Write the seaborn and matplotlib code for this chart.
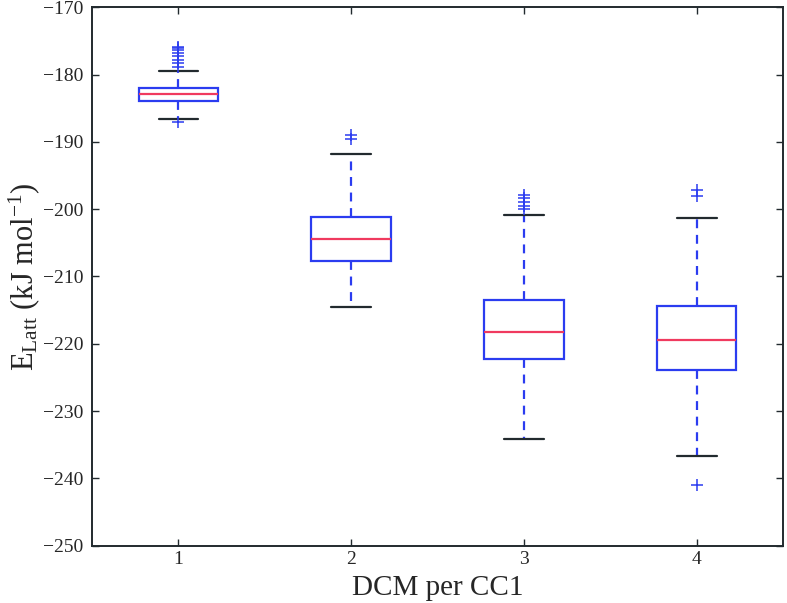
import numpy as np
import pandas as pd
import matplotlib
matplotlib.use("Agg")
import matplotlib.pyplot as plt
import seaborn as sns

# box summary values (kJ/mol)
dcm = [1, 2, 3, 4]
q1 = [-183.9, -207.7, -222.3, -223.9]
median = [-182.9, -204.4, -218.2, -219.4]
q3 = [-182.0, -201.2, -213.5, -214.4]
whisker_low = [-186.6, -214.5, -234.1, -236.6]
whisker_high = [-179.4, -191.8, -200.9, -201.3]
outliers = [
    [-187.0, -175.9, -176.1, -176.4, -176.8, -177.3, -177.8, -178.3, -178.9],
    [-189.0, -189.6],
    [-197.9, -198.4, -198.9, -199.5, -200.0],
    [-241.0, -197.1, -198.0],
]


def sample_from_stats(lo_w, a, m, b, hi_w, fl):
    # rebuild a sample whose quartiles / whiskers / fliers match the stats
    lows = sorted([v for v in fl if v < a]) + [lo_w]
    highs = [hi_w] + sorted([v for v in fl if v > b])
    k = max(len(lows), len(highs))
    vals = lows + [a] * (k - len(lows) + 1) + [m] * k + [b] * (2 * k - len(highs)) + highs
    return vals


rows = []
for i, g in enumerate(dcm):
    for v in sample_from_stats(whisker_low[i], q1[i], median[i], q3[i], whisker_high[i], outliers[i]):
        rows.append({"dcm": g, "elatt": v})
df = pd.DataFrame(rows)

sns.set_style("ticks")
plt.rcParams['font.family'] = ['Liberation Serif', 'DejaVu Serif']
plt.rcParams['mathtext.fontset'] = 'custom'
plt.rcParams['mathtext.rm'] = 'Liberation Serif'
plt.rcParams['mathtext.it'] = 'Liberation Serif:italic'
plt.rcParams['axes.unicode_minus'] = True

blue = '#2b3cf0'
red = '#f03a5f'
dark = '#222a2e'

fig = plt.figure(figsize=(7.87, 6.03), dpi=100)
ax = fig.add_axes([0.117, 0.095, 0.878, 0.893])

sns.boxplot(data=df, x='dcm', y='elatt', ax=ax, width=0.46, whis=1.5,
            color='white', linecolor=blue, linewidth=1.6,
            boxprops=dict(facecolor='none', edgecolor=blue),
            medianprops=dict(color=red, linewidth=1.6),
            whiskerprops=dict(color=blue, linestyle=(0, (4, 3))),
            capprops=dict(color=dark),
            flierprops=dict(marker='+', markersize=8, markeredgecolor=blue,
                            markeredgewidth=1.1))

ax.set_xlim(-0.5, 3.5)
ax.set_ylim(-250, -170)
ax.set_yticks(np.arange(-250, -169, 10))
ax.tick_params(direction='in', top=True, right=True, length=5, width=1,
               color=dark, labelsize=14, pad=6)
ax.tick_params(axis='x', pad=4)
for s in ax.spines.values():
    s.set_visible(True)
    s.set_color(dark)
    s.set_linewidth(1.4)

ax.set_xlabel('DCM per CC1', fontsize=21, va='center')
ax.xaxis.set_label_coords(0.5, -0.078)
ax.set_ylabel(r'E$_{\mathrm{Latt}}$ (kJ mol$^{-1}$)', fontsize=22, va='center')
ax.yaxis.set_label_coords(-0.098, 0.5)

fig.savefig('out.png', dpi=100)
